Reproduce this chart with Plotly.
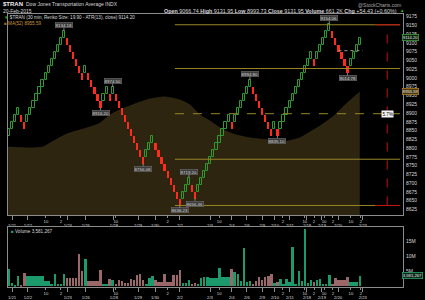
import plotly.graph_objects as go

W, H = 425, 300
FONT = "Liberation Sans"

BOX = 19.90
BASE = 8636.0

# Renko brick levels (brick k spans BASE+k*BOX .. BASE+(k+1)*BOX), one per column
levels = [10, 11, 12, 13,
          12, 11,
          12, 13, 14, 15, 16, 17, 18, 19, 20, 21, 22, 23, 24,
          23, 22, 21, 20, 19, 18,
          19,
          18, 17, 16, 15, 14,
          15, 16,
          15,
          16,
          15, 14, 13, 12, 11, 10, 9, 8, 7, 6,
          7, 8, 9,
          8, 7, 6, 5, 4, 3, 2, 1, 0,
          1, 2, 3,
          2, 1,
          2, 3, 4, 5, 6, 7, 8, 9, 10, 11, 12,
          11,
          12, 13, 14, 15, 16, 17,
          16, 15, 14, 13, 12, 11, 10,
          11,
          10,
          11, 12, 13, 14, 15, 16, 17, 18, 19, 20, 21,
          20,
          21, 22, 23, 24, 25,
          24, 23, 22, 21, 20, 19,
          20, 21, 22, 23]

# volume per brick, millions
volumes_m = [5.9, 1.1, 0.6, 3.6, 0.6, 4.4,
             3.6, 3.6, 3.6, 3.6, 3.6, 3.6,
             1.7, 1.7, 0.9, 4.1, 0.7, 0.9, 4.1,
             2.8, 2.8, 2.8, 2.8,
             10.8, 5.2, 9.2,
             1.7, 1.7, 1.7, 1.7,
             5.6, 0.9, 0.9, 2.6, 2.3, 0.7, 2.3, 1.7, 1.2, 1.2,
             2.6, 2.3, 3.8, 4.1, 2.3, 0.7, 2.8, 3.4, 2.3, 1.4,
             1.4, 4.1, 1.4, 1.4, 3.8, 3.8, 5.6, 1.2, 1.2, 2.3,
             0.7, 1.2, 0.7,
             2.9, 3.0, 3.0, 2.8, 2.8, 2.8,
             6.1, 3.2, 3.2, 3.2, 5.9, 4.8, 4.0, 1.7, 12.8, 1.5,
             1.7, 0.7, 1.7, 3.2, 2.3, 3.1, 3.4, 4.1, 1.2, 1.4,
             2.6, 0.7, 2.5, 1.5, 13.1, 0.7, 5.2, 1.7, 19.0, 1.2,
             2.0, 1.5, 2.3, 2.5, 0.9, 0.9, 3.8, 0.9, 2.8, 2.3,
             2.3, 2.3, 3.1, 1.4, 1.4, 1.4, 3.58]

# MA(52) read at brick positions
ma_idx = [0.7, 7.9, 12.1, 14.4, 20, 25.3, 30.8, 34.1, 37.4, 42.3, 47.2, 52.1, 57.1,
          60.3, 63.6, 66.9, 70.8, 74.4, 80, 86.6, 92.1, 96.4, 99.7, 103, 107.2, 111.2, 116]
ma_val = [8803, 8800, 8803, 8814, 8840, 8854, 8871, 8894, 8909, 8926, 8940, 8946, 8937,
          8923, 8894, 8877, 8854, 8840, 8829, 8823, 8820, 8829, 8846, 8863, 8889, 8923, 8960]

hour_pos = [13.1, 18, 36, 53, 69.9, 90.8, 98, 101, 104.3, 107.2, 113.1, 116.4]
hour_text = ["10", "2", "10", "2", "10", "2", "10", "2", "10", "2", "10", "2"]
date_pos = [2.0, 7.2, 20.3, 26.2, 35.4, 43.3, 48.9, 57, 66.9, 74, 79, 84, 88.2, 93.1,
            98.7, 103.6, 108.9, 117]
date_text = ["1/21", "1/22", "1/23", "1/26", "1/28", "1/29", "1/30", "2/2", "2/3", "2/4",
             "2/6", "2/9", "2/10", "2/11", "2/18", "2/19", "2/20", "2/23"]

price_ticks = list(range(8625, 9176, 25))
vol_ticks = [5e6, 10e6, 15e6]
vol_tick_text = ["5M", "10M", "15M"]

pivot_idx = [19, 31, 35, 45, 57, 60, 62, 80, 89, 106, 112]
pivot_text = ["9134.18", "8916.20", "8974.50", "8756.08", "8636.23", "8719.20",
              "8656.46", "8994.80", "8835.10", "9154.06", "9014.78"]

quad_levels = [9152, 9027, 8898, 8768, 8636]
quad_start, quad_end = 55.4, 129.2
quad_red_start = 121.0
quad_mark = 125.0
quad_label = "5.7%"
atr_line = 9078
atr_span = [109, 117]

last_close = 9114.20
ma_last_text = "8955.59"
vol_last = 3581267

# ---------------- derived ----------------
idx = list(range(1, len(levels) + 1))
dirs = []
for i, k in enumerate(levels):
    dirs.append(1 if i == 0 or k > levels[i - 1] else -1)

up_x = [x for x, d in zip(idx, dirs) if d > 0]
up_b = [BASE + BOX * k for k, d in zip(levels, dirs) if d > 0]
dn_x = [x for x, d in zip(idx, dirs) if d < 0]
dn_b = [BASE + BOX * k for k, d in zip(levels, dirs) if d < 0]

GREEN_V = "#1d9a6c"
PINK_V = "#9a6868"
vcol = [GREEN_V if d > 0 else PINK_V for d in dirs]

X0, X1 = 8, 403
PT, PB = 14, 215
VT, VB = 227.3, 286.7
XR = [0.672, 130.18]
YR = [8608.8, 9182.7]
VR = [0, 19.8e6]
AX = "#8c8c8c"
TXT = "#d8d8d8"

def pxx(x):
    return x / W

def pyy(y):
    return 1 - y / H

fig = go.Figure()

# MA area on the base subplot (x, y)
fig.add_trace(go.Scatter(x=ma_idx, y=ma_val, mode="lines",
                         line=dict(color="#3a3116", width=0.6, shape="spline", smoothing=0.6),
                         fill="tozeroy", fillcolor="#2d2510", xaxis="x", yaxis="y",
                         hoverinfo="skip"))

# Renko bricks on the overlaying subplot (x3, y) so they sit above the MA area
fig.add_trace(go.Bar(x=up_x, y=[BOX] * len(up_x), base=up_b, width=0.72,
                     marker=dict(color="rgba(0,0,0,0)", line=dict(color="#2f9a2f", width=1)),
                     xaxis="x3", yaxis="y"))
fig.add_trace(go.Bar(x=dn_x, y=[BOX] * len(dn_x), base=dn_b, width=0.72,
                     marker=dict(color="#ff2b1c", line=dict(width=0)),
                     xaxis="x3", yaxis="y"))

fig.add_trace(go.Bar(x=idx, y=[v * 1e6 for v in volumes_m], width=0.82,
                     marker=dict(color=vcol, line=dict(width=0)),
                     xaxis="x2", yaxis="y2"))
fig.add_trace(go.Scatter(x=[XR[0]], y=[-1], xaxis="x4", yaxis="y2", mode="markers",
                         marker=dict(size=1, color="rgba(0,0,0,0)"), hoverinfo="skip"))

# quadrant lines
shapes = []
for j, lv in enumerate(quad_levels):
    shapes.append(dict(type="line", xref="x", yref="y", x0=quad_start, x1=quad_end,
                       y0=lv, y1=lv,
                       line=dict(color="#978626", width=1, dash="dash" if j == 2 else "solid")))
for lv in (quad_levels[0], quad_levels[-1]):
    shapes.append(dict(type="line", xref="x", yref="y", x0=quad_red_start, x1=quad_end,
                       y0=lv, y1=lv, line=dict(color="#c01414", width=1)))
shapes.append(dict(type="line", xref="x", yref="y", x0=quad_mark, x1=quad_mark,
                   y0=quad_levels[-1], y1=quad_levels[0],
                   line=dict(color="#c01414", width=1, dash="dash")))
shapes.append(dict(type="line", xref="x", yref="y", x0=atr_span[0], x1=atr_span[1],
                   y0=atr_line, y1=atr_line, line=dict(color="#9a9a9a", width=1, dash="dot")))

ann = []

def txt(x, y, s, size=5, color=TXT, xanchor="left"):
    ann.append(dict(xref="paper", yref="paper", x=pxx(x), y=pyy(y), text=s, showarrow=False,
                    xanchor=xanchor, yanchor="middle",
                    font=dict(size=size, color=color, family=FONT)))

txt(0.5, 3.6, "<b>$TRAN</b>", size=6, color="#f0f0f0")
txt(24, 3.9, "Dow Jones Transportation Average INDX", size=5)
txt(1, 10.6, "20-Feb-2015", size=5)
txt(399, 11.0, "<b>Open</b> 9066.74 <b>High</b> 9131.95 <b>Low</b> 8993.73 <b>Close</b> 9131.95 "
    "<b>Volume</b> 661.2K <b>Chg</b> +54.43 (+0.60%)", size=5.4, xanchor="right")
txt(402, 11.0, "▲", size=4.5, color="#22c022", xanchor="center")
txt(403, 4.8, "@StockCharts.com", size=5, color="#a8a8a8", xanchor="right")
txt(2, 17.6, "<span style='color:#22b022'>▼</span> $TRAN (30 min, Renko Size: 19.90 - ATR(13), close) 9114.20",
    size=4.6)
txt(2, 23.4, "<span style='color:#8a6a1c'>■</span> MA(52) " + ma_last_text, size=4.6, color="#c8963c")
txt(9, 231.6, "<span style='color:#1fa070'>■</span> Volume {:,}".format(vol_last), size=4.6)

# pivot labels
for i, t in zip(pivot_idx, pivot_text):
    k = levels[i - 1]
    d = dirs[i - 1]
    yv = BASE + BOX * (k + 1) if d > 0 else BASE + BOX * k
    ann.append(dict(xref="x", yref="y", x=i, y=yv, text=t, showarrow=True, arrowhead=0,
                    arrowwidth=0.8, arrowcolor="#9a9a9a", ax=0, ay=-6 if d > 0 else 5,
                    standoff=0, bgcolor="#3c3c3c", bordercolor="#6c6c6c", borderwidth=0.6,
                    borderpad=0, font=dict(size=4.4, color="#d6d6d6", family=FONT)))

# quadrant label
ann.append(dict(xref="x", yref="y", x=quad_mark, y=quad_levels[2], text=quad_label,
                showarrow=False, bgcolor="#f4f4f4", borderpad=0.5,
                font=dict(size=4.6, color="#000000", family=FONT)))

# right-axis value boxes
def rbox(yref, y, s, border, bg):
    ann.append(dict(xref="paper", yref=yref, x=pxx(401.5), y=y, text=s, showarrow=False,
                    xanchor="left", yanchor="middle", bgcolor=bg, bordercolor=border,
                    borderwidth=0.8, borderpad=0, font=dict(size=4.2, color="#e6e6e6", family=FONT)))

rbox("y", last_close, "{:.2f}".format(last_close), "#3aa03a", "#0c200c")
rbox("y", ma_val[-1], ma_last_text, "#b07a20", "#4a3a12")
rbox("y2", vol_last, "{:,}".format(vol_last), "#2aa06a", "#0c2a1c")

common_x = dict(range=XR, domain=[pxx(X0), pxx(X1)], showgrid=False, zeroline=False,
                fixedrange=True)
tf = dict(size=4.2, color=TXT, family=FONT)

fig.update_layout(
    width=W, height=H, margin=dict(l=0, r=0, t=0, b=0),
    paper_bgcolor="#000000", plot_bgcolor="#000000",
    showlegend=False, barmode="overlay", bargap=0,
    shapes=shapes, annotations=ann,
    xaxis=dict(**common_x, anchor="y", tickvals=hour_pos, ticktext=hour_text, tickfont=tf,
               ticks="outside", ticklen=2, tickcolor=AX, showline=True, linecolor=AX,
               linewidth=1, mirror=True),
    xaxis3=dict(**common_x, anchor="y", overlaying="x", tickvals=date_pos, ticktext=date_text,
                tickfont=tf, ticks="outside", ticklen=4, tickcolor=AX, showline=False,
                ticklabelstandoff=2),
    xaxis2=dict(**common_x, anchor="y2", tickvals=hour_pos, ticktext=hour_text, tickfont=tf,
                ticks="outside", ticklen=2, tickcolor=AX, showline=True, linecolor=AX,
                linewidth=1, mirror=True),
    xaxis4=dict(**common_x, anchor="y2", overlaying="x2", tickvals=date_pos, ticktext=date_text,
                tickfont=tf, ticks="outside", ticklen=4, tickcolor=AX, showline=False,
                ticklabelstandoff=2),
    yaxis=dict(range=YR, domain=[pyy(PB), pyy(PT)], side="right", anchor="x",
               tickvals=price_ticks, tickfont=dict(size=5, color=TXT, family=FONT),
               ticks="outside", ticklen=1, tickcolor="#000000",
               showgrid=False, zeroline=False, showline=True, linecolor=AX, linewidth=1,
               mirror=True, fixedrange=True),
    yaxis2=dict(range=VR, domain=[pyy(VB), pyy(VT)], side="right", anchor="x2",
                tickvals=vol_ticks, ticktext=vol_tick_text,
                tickfont=dict(size=5, color=TXT, family=FONT),
                ticks="outside", ticklen=1, tickcolor="#000000",
                showgrid=False, zeroline=False, showline=True, linecolor=AX, linewidth=1,
                mirror=True, fixedrange=True),
)

fig.write_html("out.html", config={"displayModeBar": False})
